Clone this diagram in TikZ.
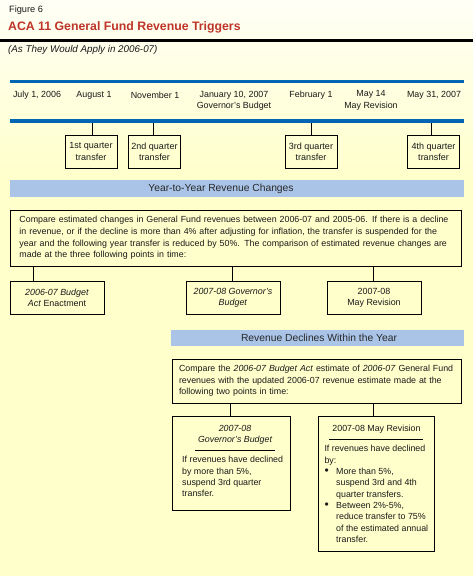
\documentclass[tikz,border=0pt]{standalone}
\usepackage{fontspec}
\setmainfont{Liberation Sans}
\usetikzlibrary{calc}
\definecolor{bgY}{RGB}{255,255,204}
\definecolor{bgTop}{RGB}{255,255,246}
\definecolor{titleRed}{RGB}{190,52,40}
\definecolor{tlBlue}{RGB}{0,102,179}
\definecolor{banBlue}{RGB}{170,196,232}
\definecolor{txt}{RGB}{25,25,25}
\newcommand{\bul}{\makebox[11.7pt][l]{\raisebox{0.2pt}{\scalebox{1.35}{\textbullet}}}}
\begin{document}
\begin{tikzpicture}[x=1pt,y=-1pt,
  every node/.style={inner sep=0pt, text=txt},
  body/.style={font=\fontsize{8.85}{11.3}\selectfont},
  small/.style={font=\fontsize{8.9}{11.3}\selectfont},
  qbox/.style={draw=black, line width=0.8pt, align=center, minimum width=52pt, minimum height=33pt, font=\fontsize{9}{11.3}\selectfont},
  pbox/.style={draw=black, line width=0.8pt, align=center, minimum width=94pt, minimum height=33pt, small},
  bigbox/.style={draw=black, line width=0.8pt},
  banner/.style={fill=banBlue, draw=none},
  bantext/.style={font=\fontsize{10.3}{12}\selectfont, text={rgb,255:red,40;green,40;blue,40}},
  tline/.style={draw=tlBlue, line width=3.6pt},
  conn/.style={draw=black, line width=0.8pt}
]
\useasboundingbox (0,0) rectangle (473,576);
\fill[bgY] (0,0) rectangle (473,576);
\shade[top color=bgTop, bottom color=bgY] (0,0) rectangle (473,175);

% header
\node[anchor=west, font=\fontsize{9.2}{10}\selectfont] (fig) at (9,10) {Figure 6};
\node[anchor=west, font=\fontsize{12.3}{14}\selectfont\bfseries, text=titleRed] (title) at (8,27.5) {ACA 11 General Fund Revenue Triggers};
\fill[black] (0,38.5) rectangle (473,41.5);
\node[anchor=west, font=\fontsize{9.8}{11}\selectfont\itshape] (sub) at (8,49.5) {(As They Would Apply in 2006-07)};

% timeline
\coordinate (tla) at (10,81.5);
\coordinate (tlb) at (464,81.5);
\coordinate (tlc) at (10,121);
\coordinate (tld) at (464,121);
\draw[tline] (tla) -- (tlb);
\draw[tline] (tlc) -- (tld);
\node[small] (d1) at (37,95) {July 1, 2006};
\node[small] (d2) at (94,95) {August 1};
\node[small] (d3) at (155,95) {November 1};
\node[small, align=center] (d4) at (234,100.5) {January 10, 2007\\Governor's Budget};
\node[small] (d5) at (311,95) {February 1};
\node[small, align=center] (d6) at (371,100.5) {May 14\\May Revision};
\node[small] (d7) at (434,95) {May 31, 2007};

\node[qbox] (q1) at (91,151.5) {1st quarter\\transfer};
\node[qbox] (q2) at (154.5,151.5) {2nd quarter\\transfer};
\node[qbox] (q3) at (311,151.5) {3rd quarter\\transfer};
\node[qbox] (q4) at (433.5,151.5) {4th quarter\\transfer};
\coordinate (t1) at (92,123);
\coordinate (t2) at (153,123);
\coordinate (t3) at (311,123);
\coordinate (t4) at (431,123);
\draw[conn] (t1) -- (t1 |- q1.north);
\draw[conn] (t2) -- (t2 |- q2.north);
\draw[conn] (t3) -- (t3 |- q3.north);
\draw[conn] (t4) -- (t4 |- q4.north);

% Year-to-Year
\fill[banner] (10,180) rectangle (464,197);
\node[bantext] (yyt) at (221,188.5) {Year-to-Year Revenue Changes};
\node[bigbox, align=left, text width=432pt, inner xsep=9.5pt, minimum height=56pt, font=\fontsize{8.85}{11.7}\selectfont] (yy) at (235.5,238)
 {Compare estimated changes in General Fund revenues between 2006-07 and 2005-06. If there is a decline\\
 in revenue, or if the decline is more than 4\% after adjusting for inflation, the transfer is suspended for the\\
 year and the following year transfer is reduced by 50\%. The comparison of estimated revenue changes are\\
 made at the three following points in time:};

\node[pbox] (a1) at (57,297.5) {\textit{2006-07 Budget}\\\textit{Act} Enactment};
\node[pbox] (a2) at (233,297.5) {\textit{2007-08 Governor's}\\\textit{Budget}};
\node[pbox] (a3) at (374,297.5) {2007-08\\May Revision};
\coordinate (u1) at (33,281);
\coordinate (u2) at (232,281);
\coordinate (u3) at (373,281);
\draw[conn] (yy.south -| u1) -- (u1);
\draw[conn] (yy.south -| u2) -- (u2);
\draw[conn] (yy.south -| u3) -- (u3);

% Revenue Declines
\fill[banner] (171,330) rectangle (464,346);
\node[bantext] (rdt) at (319,338) {Revenue Declines Within the Year};
\node[bigbox, body, align=left, text width=275pt, inner xsep=7pt, minimum height=44pt] (rd) at (316.5,381)
 {Compare the \textit{2006-07 Budget Act} estimate of \textit{2006-07} General Fund\\
 revenues with the updated 2006-07 revenue estimate made at the\\
 following two points in time:};

\node[bigbox, minimum width=118pt, minimum height=94pt] (b1) at (231,463) {};
\node[bigbox, minimum width=116pt, minimum height=135pt] (b2) at (376,483.5) {};
\coordinate (v1) at (230,416);
\coordinate (v2) at (373,416);
\draw[conn] (rd.south -| v1) -- (v1);
\draw[conn] (rd.south -| v2) -- (v2);

% left box content
\node[align=center, font=\fontsize{8.85}{11.3}\selectfont\itshape] (b1t) at (235,435) {2007-08\\Governor's Budget};
\draw[conn] (195,450) -- (275,450);
\node[body, align=left, anchor=north west] (b1b) at (182,456.3)
 {If revenues have declined\\by more than 5\%,\\suspend 3rd quarter\\transfer.};

% right box content
\node[body] (b2t) at (376.5,429.5) {2007-08 May Revision};
\draw[conn] (329,439) -- (423,439);
\node[body, align=left, anchor=north west] (b2b) at (324.3,445.3)
 {If revenues have declined\\by:\\
 \bul More than 5\%,\\
 \hspace*{11.7pt}suspend 3rd and 4th\\
 \hspace*{11.7pt}quarter transfers.\\
 \bul Between 2\%-5\%,\\
 \hspace*{11.7pt}reduce transfer to 75\%\\
 \hspace*{11.7pt}of the estimated annual\\
 \hspace*{11.7pt}transfer.};
\end{tikzpicture}
\end{document}
